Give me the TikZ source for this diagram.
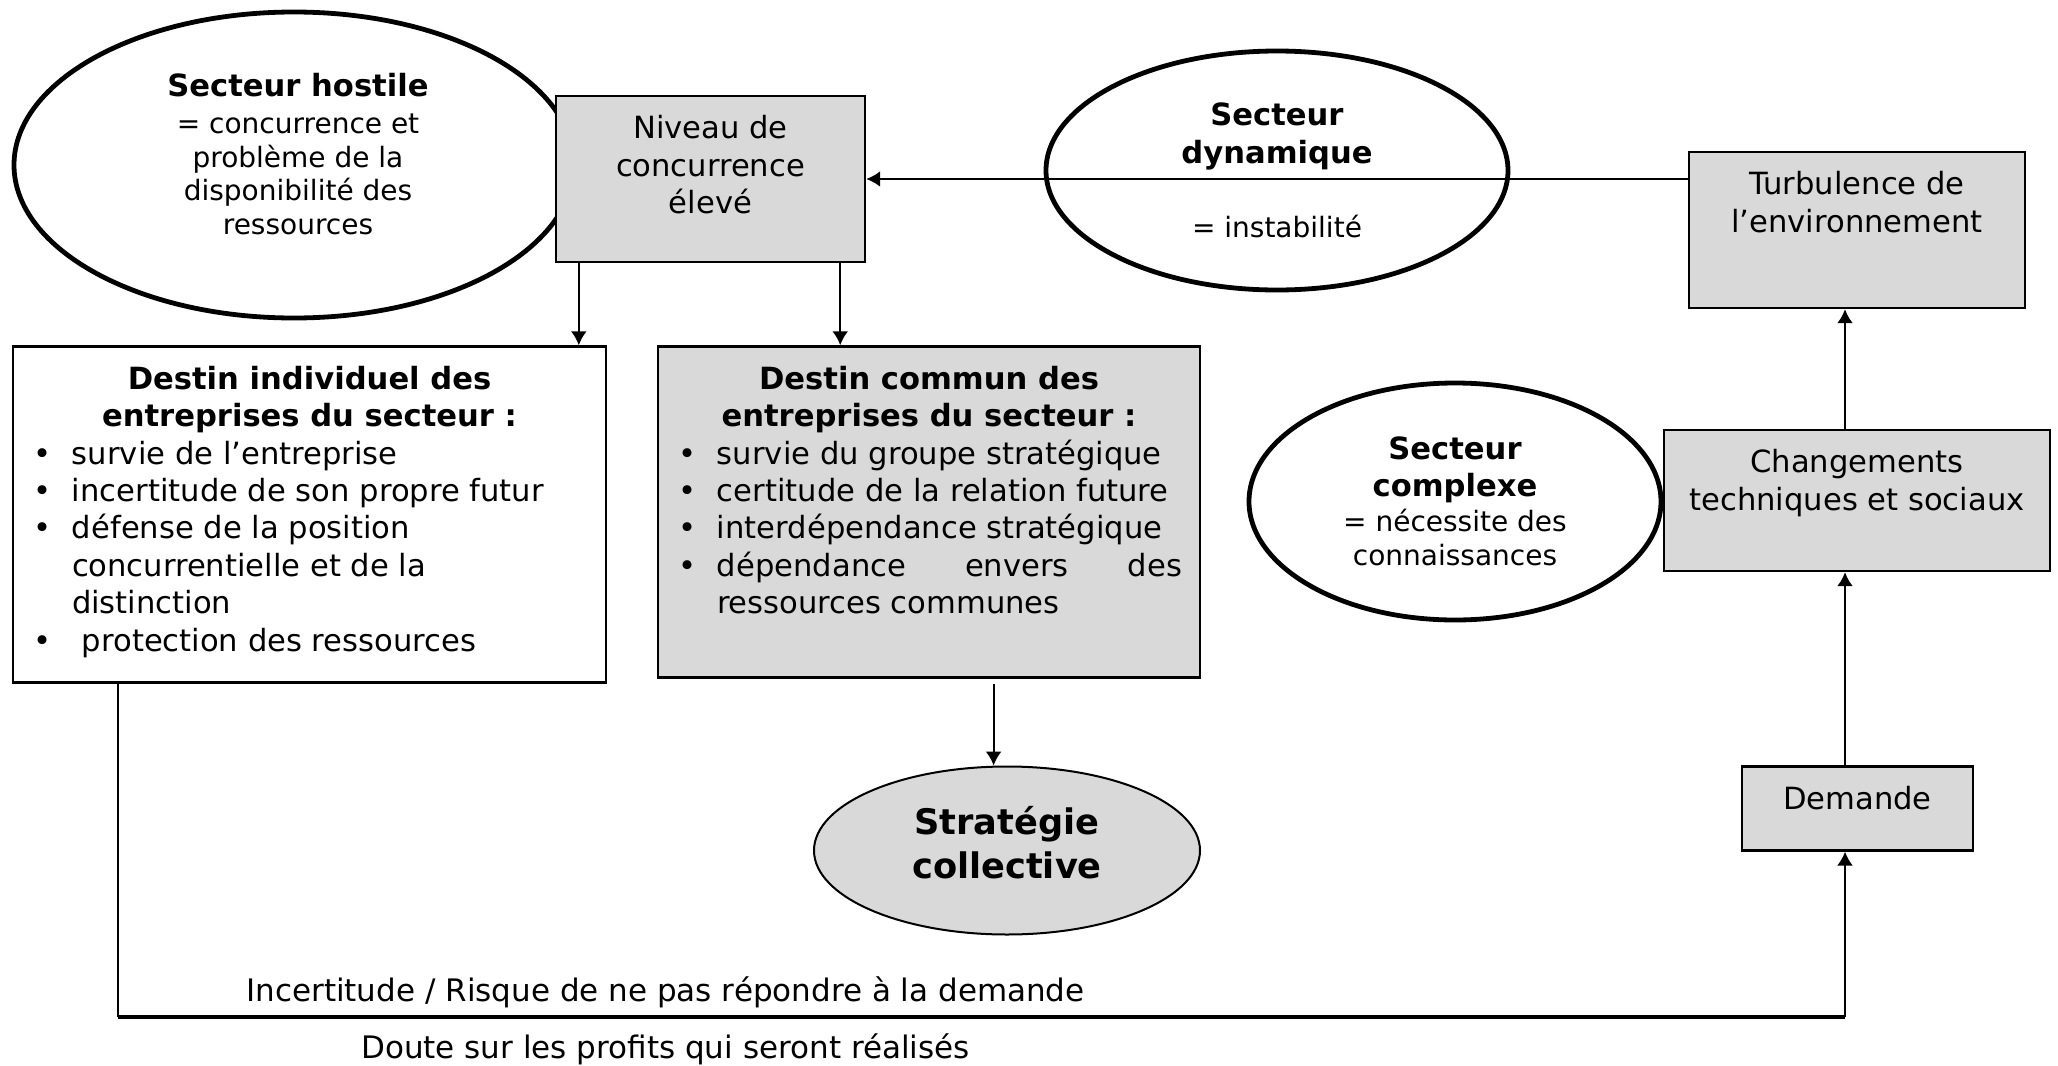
\documentclass[tikz,border=0pt]{standalone}
\usepackage{fontspec}
\setmainfont{DejaVu Sans}
\usetikzlibrary{shapes,arrows.meta}

\definecolor{gris}{RGB}{217,217,217}
\tikzstyle{rec} = [rectangle,draw,line width=1.2pt,inner sep=0pt]
\tikzstyle{recg} = [rec,fill=gris]
\tikzstyle{ell} = [ellipse,draw,line width=2.4pt,inner sep=0pt,align=center]
\tikzstyle{fleche} = [-{Latex[length=7pt,width=8pt]},line width=1.2pt]

\newcommand{\texte}{\fontsize{15.3}{18.7}\selectfont}
\newcommand{\petit}{\fontsize{14}{16.8}\selectfont}
\newcommand{\grand}{\fontsize{17.6}{22.3}\selectfont\bfseries}
% boite : largeur, hauteur, texte cale en haut
\newcommand{\boite}[3]{\parbox[c][#2][t]{#1}{\texte\vspace*{8.3pt}#3}}
\newcommand{\puce}[1]{\par\noindent\hangindent=29.5pt\hangafter=1\makebox[29.5pt][l]{\hspace{10pt}\textbullet}\strut#1\par}

\begin{document}
\begin{tikzpicture}[x=0.5pt,y=-0.5pt]
    \useasboundingbox (0,0) rectangle (2058,1066);

    % ellipses
    \node[ell,minimum width=280pt,minimum height=153pt](hostile) at (294,165) {};
    \node[align=center,font=\petit](hostiletxt) at ([xshift=2pt,yshift=5.5pt]hostile.center) {{\texte\bfseries Secteur hostile}\\[1.7pt] = concurrence et\\ problème de la\\ disponibilité des\\ ressources};
    \node[ell,minimum width=231pt,minimum height=119.5pt,font=\texte](dynamique) at (1277,170.5) {\textbf{Secteur}\\ \textbf{dynamique}\\[18.5pt] {\petit = instabilité}};
    \node[ell,minimum width=206pt,minimum height=118.5pt,font=\petit](complexe) at (1455,501.5) {{\texte\bfseries Secteur}\\[1.5pt] {\texte\bfseries complexe}\\[1pt] = nécessite des\\ connaissances};
    \node[ell,line width=1pt,fill=gris,minimum width=193pt,minimum height=84pt](strategie) at (1007,850.5) {};
    \node[align=center,font=\grand](strategietxt) at ([yshift=4pt]strategie.center) {Stratégie\\ collective};

    % boites
    \node[recg](niveau) at (710.5,179) {\boite{154.5pt}{83pt}{\centering\strut Niveau de\\ concurrence\\ élevé}};
    \node[recg](turbulence) at (1857,230) {\boite{168pt}{78pt}{\centering\strut Turbulence de\\ l’environnement}};
    \node[recg](changements) at (1857,500.5) {\boite{193pt}{70.5pt}{\centering\strut Changements\\ techniques et sociaux}};
    \node[recg](demande) at (1857.5,808.5) {\boite{115.5pt}{42pt}{\centering\strut Demande}};
    \node[rec,fill=white](destinind) at (309.5,514.5) {\boite{296.5pt}{168pt}{%
        {\centering\bfseries\strut Destin individuel des\\ entreprises du secteur :\par}
        \puce{survie de l’entreprise}
        \puce{incertitude de son propre futur}
        \puce{défense de la position\\ concurrentielle et de la\\ distinction}
        \puce{\hspace{5pt}protection des ressources}}};
    \node[recg](destincom) at (929,512) {\boite{271pt}{165.5pt}{%
        \rightskip=9pt
        {\centering\bfseries\strut Destin commun des\\ entreprises du secteur :\par}
        \puce{survie du groupe stratégique}
        \puce{certitude de la relation future}
        \puce{interdépendance stratégique}
        \puce{dépendance\hfill envers\hfill des\\ ressources communes}}};

    % textes du bas
    \node[font=\fontsize{15.5}{18.7}\selectfont](incertitude) at (665.5,992) {Incertitude / Risque de ne pas répondre à la demande};
    \node[font=\fontsize{15.5}{18.7}\selectfont](doute) at (665.5,1049) {Doute sur les profits qui seront réalisés};

    % liaisons
    \coordinate (colonne) at (1845,0);
    \coordinate (flecheA) at ([xshift=12pt]niveau.south west);
    \coordinate (flecheB) at ([xshift=-13pt]niveau.south east);
    \coordinate (depart) at (993.6,684);
    \coordinate (coinG) at (118,1017);
    \coordinate (coinD) at (1845,1017);

    \draw[fleche] (niveau.east -| turbulence.west) -- (niveau.east);
    \draw[fleche] (flecheA) -- (flecheA |- destinind.north);
    \draw[fleche] (flecheB) -- (flecheB |- destincom.north);
    \draw[fleche] (changements.north -| colonne) -- (turbulence.south -| colonne);
    \draw[fleche] (demande.north -| colonne) -- (changements.south -| colonne);
    \draw[fleche,line width=1pt] (depart) -- (depart |- strategie.north);
    \draw[line width=1pt] (destinind.south -| coinG) -- (coinG);
    \draw[line width=2pt] (coinG) -- (coinD);
    \draw[fleche,line width=1pt] (coinD) -- (demande.south -| coinD);

\end{tikzpicture}
\end{document}
